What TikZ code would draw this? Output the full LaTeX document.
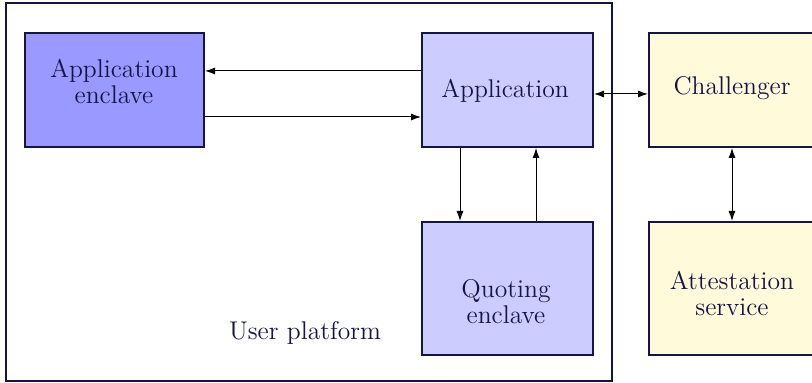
\documentclass[tikz,border=0pt]{standalone}
\usepackage{fontspec}
\usetikzlibrary{arrows.meta}
\definecolor{inchiostro}{RGB}{20,20,70}
\definecolor{enclave}{RGB}{153,153,255}
\definecolor{piattaforma}{RGB}{204,204,255}
\definecolor{remoto}{RGB}{255,250,217}

\begin{document}
\begin{tikzpicture}[x=0.5pt,y=0.5pt,>={Latex[length=5pt,width=3.5pt]}]
\tikzstyle{blocco} = [draw=inchiostro, line width=1pt, minimum height=57pt]
\tikzstyle{collega} = [->, line width=0.5pt]
\tikzstyle{testo} = [text=inchiostro, align=center, font=\rmfamily\fontsize{12.8}{13}\selectfont]
\useasboundingbox (0,0) rectangle (812,383);
\node[draw=inchiostro, line width=1pt, minimum width=303pt, minimum height=189pt] (v0) at (309,191) {};
\node[blocco, fill=enclave, minimum width=89.5pt] (v1) at (114.5,293) {};
\node[blocco, fill=piattaforma, minimum width=85.5pt] (v2) at (507.5,293) {};
\node[blocco, fill=piattaforma, minimum width=85.5pt, minimum height=66.5pt] (v3) at (507.5,94.5) {};
\node[blocco, fill=remoto, minimum width=85.5pt] (v4) at (734.5,293) {};
\node[blocco, fill=remoto, minimum width=85.5pt, minimum height=66.5pt] (v5) at (734.5,94.5) {};
\node[testo] (t1) at (114,301) {Application\\enclave};
\node[testo] (t2) at (505,292) {Application};
\node[testo] (t3) at (506,81) {Quoting\\enclave};
\node[testo] (t4) at (732,295) {Challenger};
\node[testo] (t5) at (732,90) {Attestation\\service};
\node[testo] (t0) at (305,50) {User platform};
\draw[collega] ([yshift=9.5pt]v2.west) -- ([yshift=9.5pt]v1.east);
\draw[collega] ([yshift=-13.5pt]v1.east) -- ([yshift=-13.5pt]v2.west);
\draw[collega, <->] ([yshift=-2pt]v2.east) -- ([yshift=-2pt]v4.west);
\draw[collega] ([xshift=-23.75pt]v2.south) -- ([xshift=-23.75pt]v3.north);
\draw[collega] ([xshift=14.25pt]v3.north) -- ([xshift=14.25pt]v2.south);
\draw[collega, <->] ([xshift=-1.25pt]v4.south) -- ([xshift=-1.25pt]v5.north);
\end{tikzpicture}
\end{document}
